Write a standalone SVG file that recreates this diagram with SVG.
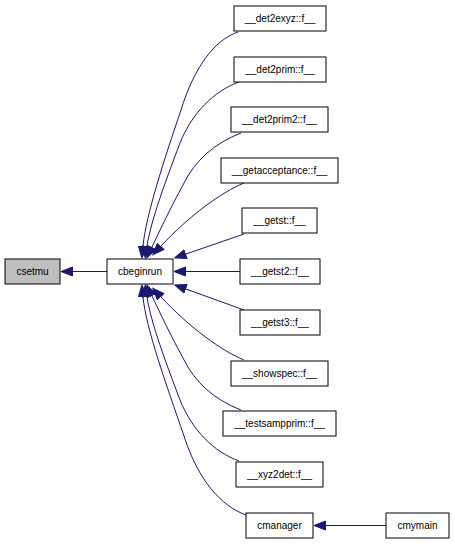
<svg xmlns="http://www.w3.org/2000/svg" width="455" height="544" viewBox="0 0 455 544">
<style>
.n rect{fill:#ffffff;stroke:#000000;stroke-width:1}
.n text{font-family:"Liberation Sans",Arial,sans-serif;font-size:10px;text-anchor:middle;fill:#000000}
.e path{fill:none;stroke:#191970;stroke-width:1;marker-end:url(#a)}
</style>
<defs>
<marker id="a" markerWidth="13" markerHeight="11" refX="0" refY="5" orient="auto" markerUnits="userSpaceOnUse">
<path d="M0.5,0.5 L12,5 L0.5,9.5 Z" fill="#191970" stroke="#191970" stroke-width="1"/>
</marker>
</defs>
<rect width="455" height="544" fill="#ffffff"/>
<g id="connectors" class="e">
<path d="M107,271.5 L73,271.5"/>
<path d="M238,32 C214,40 194,68 181,110 C164,160 146,215 143,246"/>
<path d="M239,82 C214,91 192,113 180,143 C166,180 151,220 147,246"/>
<path d="M241,133 C215,143 195,160 183,185 C172,205 160,230 152,247"/>
<path d="M244,183 C222,192 190,215 161,246"/>
<path d="M244,234 L186,254"/>
<path d="M240,271.5 L186,271.5"/>
<path d="M244,310 L186,289"/>
<path d="M244,360 C222,351 190,328 161,297"/>
<path d="M241,410 C215,400 195,383 183,358 C172,338 160,313 152,296"/>
<path d="M239,461 C214,452 192,430 180,400 C166,363 151,323 147,297"/>
<path d="M246,515 C221,506 198,480 184,436 C166,384 146,328 143,297"/>
<path d="M386,525.5 L326,525.5"/>
</g>
<g id="csetmu" class="n"><rect x="5" y="259" width="55" height="25" style="fill:#bfbfbf"/><text x="32.5" y="275">csetmu</text></g>
<g id="cbeginrun" class="n"><rect x="107" y="259" width="66" height="25"/><text x="140" y="275">cbeginrun</text></g>
<g id="det2exyz" class="n"><rect x="234" y="6" width="92" height="25"/><text x="280" y="22">__det2exyz::f__</text></g>
<g id="det2prim" class="n"><rect x="234" y="57" width="92" height="25"/><text x="280" y="73">__det2prim::f__</text></g>
<g id="det2prim2" class="n"><rect x="231" y="107" width="97" height="25"/><text x="279.5" y="123">__det2prim2::f__</text></g>
<g id="getacceptance" class="n"><rect x="221" y="158" width="117" height="25"/><text x="279.5" y="174">__getacceptance::f__</text></g>
<g id="getst" class="n"><rect x="242" y="208" width="75" height="25"/><text x="279.5" y="224">__getst::f__</text></g>
<g id="getst2" class="n"><rect x="240" y="259" width="80" height="25"/><text x="280" y="275">__getst2::f__</text></g>
<g id="getst3" class="n"><rect x="240" y="310" width="80" height="25"/><text x="280" y="326">__getst3::f__</text></g>
<g id="showspec" class="n"><rect x="231" y="361" width="97" height="25"/><text x="279.5" y="377">__showspec::f__</text></g>
<g id="testsampprim" class="n"><rect x="223" y="411" width="113" height="25"/><text x="279.5" y="427">__testsampprim::f__</text></g>
<g id="xyz2det" class="n"><rect x="236" y="462" width="87" height="25"/><text x="279.5" y="478">__xyz2det::f__</text></g>
<g id="cmanager" class="n"><rect x="246" y="513" width="67" height="25"/><text x="279.5" y="529">cmanager</text></g>
<g id="cmymain" class="n"><rect x="386" y="513" width="63" height="25"/><text x="417.5" y="529">cmymain</text></g>
</svg>
